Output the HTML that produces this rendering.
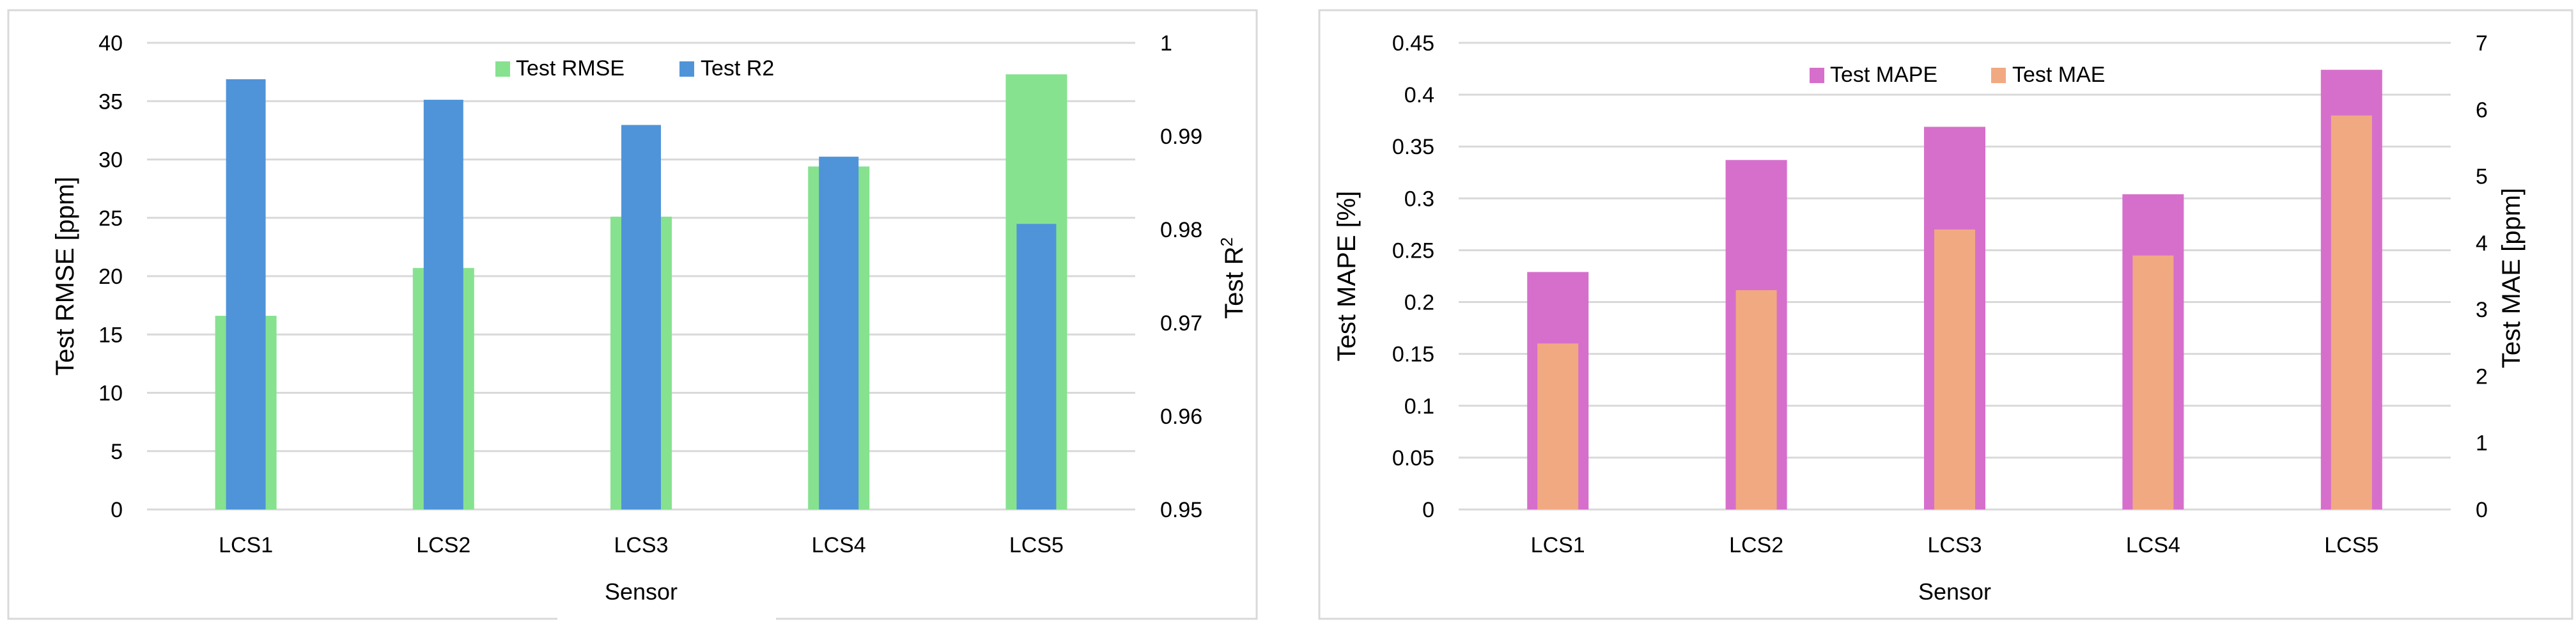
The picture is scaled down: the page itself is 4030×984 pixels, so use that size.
<!DOCTYPE html>
<html><head><meta charset="utf-8"><style>
html,body{margin:0;padding:0;background:#fff;}
svg{display:block;}
text{font-family:"Liberation Sans Narrow","Liberation Sans",sans-serif;fill:#000;}
</style></head><body>
<svg id="s" width="4030" height="984" viewBox="0 0 4030 984" xmlns="http://www.w3.org/2000/svg">
<rect x="13" y="16" width="1953" height="952" fill="none" stroke="#d9d9d9" stroke-width="3"/>
<rect x="2064" y="16" width="1960" height="952" fill="none" stroke="#d9d9d9" stroke-width="3"/>
<rect x="872" y="962" width="342" height="10" fill="#fff"/>
<g id="g1"></g>
<g id="g2"></g>
</svg>
<script>
const categories = ["LCS1","LCS2","LCS3","LCS4","LCS5"];
const rmseValues = [16.6, 20.7, 25.1, 29.4, 37.3];
const r2Values = [0.9961, 0.9939, 0.9912, 0.9878, 0.9806];
const rmseTicks = ["0","5","10","15","20","25","30","35","40"];
const r2Ticks = ["0.95","0.96","0.97","0.98","0.99","1"];
const mapeValues = [0.229, 0.337, 0.369, 0.304, 0.424];
const maeValues = [2.49, 3.29, 4.20, 3.81, 5.91];
const mapeTicks = ["0","0.05","0.1","0.15","0.2","0.25","0.3","0.35","0.4","0.45"];
const maeTicks = ["0","1","2","3","4","5","6","7"];

const NS="http://www.w3.org/2000/svg";
function mk(parent,tag,attrs,txt){const e=document.createElementNS(NS,tag);for(const k in attrs)e.setAttribute(k,attrs[k]);if(txt!==undefined)e.textContent=txt;parent.appendChild(e);return e;}

function drawChart(g,cfg){
  const x0=cfg.x0,x1=cfg.x1,yTop=67,yBot=797;
  const lMin=+cfg.lTicks[0],lMax=+cfg.lTicks[cfg.lTicks.length-1];
  const rMin=+cfg.rTicks[0],rMax=+cfg.rTicks[cfg.rTicks.length-1];
  const yl=v=>yBot-(v-lMin)/(lMax-lMin)*(yBot-yTop);
  const yr=v=>yBot-(v-rMin)/(rMax-rMin)*(yBot-yTop);
  const band=(x1-x0)/categories.length;
  const xc=i=>x0+band*(i+0.5);
  cfg.lTicks.forEach(t=>{
    const y=yl(+t);
    const ln=mk(g,'line',{x1:x0,x2:x1,y1:y,y2:y,stroke:'#d9d9d9','stroke-width':3});
    
    
    const tx=mk(g,'text',{x:cfg.lTickX,y:y+12,'font-size':34,'text-anchor':'end'},t);
    
    
  });
  cfg.rTicks.forEach(t=>{
    const tx=mk(g,'text',{x:cfg.rTickX,y:yr(+t)+12,'font-size':34,'text-anchor':'start'},t);
    
    
  });
  categories.forEach((c,i)=>{
    const cx=xc(i);
    const b1=mk(g,'rect',{x:cx-48,y:yl(cfg.lVals[i]),width:96,height:yBot-yl(cfg.lVals[i]),fill:cfg.c1});
    
    
    const b2=mk(g,'rect',{x:cx-cfg.w2/2+cfg.off2,y:yr(cfg.rVals[i]),width:cfg.w2,height:yBot-yr(cfg.rVals[i]),fill:cfg.c2});
    
    
    const tx=mk(g,'text',{x:cx,y:864,'font-size':34,'text-anchor':'middle'},c);
    
    
  });
  const xt=mk(g,'text',{x:(x0+x1)/2,y:938,'font-size':36,'text-anchor':'middle'},'Sensor');
  
  
  const lt=mk(g,'text',{x:0,y:0,'font-size':40,'text-anchor':'middle',style:'font-family:"Liberation Sans",sans-serif',transform:'translate('+(cfg.lTitleX)+',432) rotate(-90)'},cfg.lTitle);
  
  
  const rt=mk(g,'text',{x:0,y:0,'font-size':40,'text-anchor':'middle',style:'font-family:"Liberation Sans",sans-serif',transform:'translate('+(cfg.rTitleX)+',435) rotate(-90)'});
  
  
  rt.innerHTML=cfg.rTitle;
  const lg=mk(g,'g',{});
  
  
  const s1=mk(lg,'rect',{x:cfg.lgX1,y:cfg.lgY,width:23,height:24,fill:cfg.c1});
  
  
  const t1=mk(lg,'text',{x:cfg.lgX1+32,y:cfg.lgY+22,'font-size':34},cfg.n1);
  
  
  const s2=mk(lg,'rect',{x:cfg.lgX2,y:cfg.lgY,width:23,height:24,fill:cfg.c2});
  
  
  const t2=mk(lg,'text',{x:cfg.lgX2+33,y:cfg.lgY+22,'font-size':34,'xml:space':'preserve'},cfg.n2);
  
  
}
drawChart(document.getElementById('g1'),{x0:230,x1:1776,lTicks:rmseTicks,rTicks:r2Ticks,lVals:rmseValues,rVals:r2Values,
  c1:'#86e28f',c2:'#4f94d9',w2:62,off2:0,s1:'rmse',s2:'r2',lTickX:192,rTickX:1815,lTitleX:115,rTitleX:1944,
  lTitle:'Test RMSE [ppm]',rTitle:'Test R<tspan dy="-16" font-size="26">2</tspan>',lgX1:775,lgX2:1063,lgY:96,n1:'Test RMSE',n2:'Test  R2'});
drawChart(document.getElementById('g2'),{x0:2282,x1:3834,lTicks:mapeTicks,rTicks:maeTicks,lVals:mapeValues,rVals:maeValues,
  c1:'#d66fcb',c2:'#f1a982',w2:64,off2:0,s1:'mape',s2:'mae',lTickX:2244,rTickX:3873,lTitleX:2120,rTitleX:3942,
  lTitle:'Test MAPE  [%]',rTitle:'Test MAE [ppm]',lgX1:2831,lgX2:3115,lgY:106,n1:'Test MAPE',n2:'Test MAE'});
</script>
</body></html>
